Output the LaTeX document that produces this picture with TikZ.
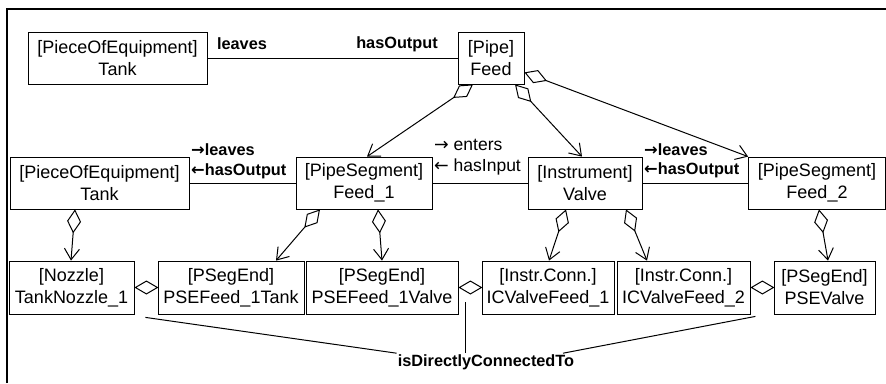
\documentclass[tikz,border=0pt]{standalone}
\usepackage{fontspec}
\setmainfont{Liberation Sans}
\newfontfamily\arrowfont{DejaVu Sans}
\usetikzlibrary{arrows.meta}

\begin{document}
\begin{tikzpicture}[x=1pt,y=-1pt,
    cls/.style={draw,line width=0.8pt,align=center,inner sep=0pt,
      minimum height=52pt,font=\fontsize{18}{22}\selectfont},
    rel/.style={inner sep=1pt,font=\fontsize{16.3}{20}\selectfont\bfseries},
    rtxt/.style={inner sep=1pt,font=\fontsize{17.5}{20}\selectfont},
    assoc/.style={line width=1pt},
    part/.style={line width=1pt,
      {Diamond[open,length=24pt,width=14pt]}-{Straight Barb[length=11pt,width=15pt]}},
    joint/.style={line width=1pt,{Diamond[open,length=24pt,width=14pt]}-}]
  \useasboundingbox (0,0) rectangle (886,383);
  \draw[line width=2pt] (7,383) -- (7,9) -- (886,9);

  \node[cls,minimum width=179pt] (tankA) at (117.5,58) {[PieceOfEquipment]\\Tank};
  \node[cls,minimum width=66pt] (pipe) at (491,58) {[Pipe]\\Feed};
  \node[cls,minimum width=179pt] (tankB) at (99.5,183) {[PieceOfEquipment]\\Tank};
  \node[cls,minimum width=136pt] (feedA) at (364,183) {[PipeSegment]\\Feed\_1};
  \node[cls,minimum width=114pt] (valve) at (585,183) {[Instrument]\\Valve};
  \node[cls,minimum width=137pt] (feedB) at (817,183) {[PipeSegment]\\Feed\_2};
  \node[cls,minimum width=125pt,minimum height=53pt] (nozzle) at (71.5,287.5) {[Nozzle]\\TankNozzle\_1};
  \node[cls,minimum width=146pt,minimum height=53pt] (pseTank) at (231,287.5) {[PSegEnd]\\PSEFeed\_1Tank};
  \node[cls,minimum width=152pt,minimum height=53pt] (pseValve) at (382,287.5) {[PSegEnd]\\PSEFeed\_1Valve};
  \node[cls,minimum width=132pt,minimum height=53pt] (icA) at (548,287.5) {[Instr.Conn.]\\ICValveFeed\_1};
  \node[cls,minimum width=133pt,minimum height=53pt] (icB) at (683.5,287.5) {[Instr.Conn.]\\ICValveFeed\_2};
  \node[cls,minimum width=101pt,minimum height=53pt] (psev) at (824.5,287.5) {[PSegEnd]\\PSEValve};

  \draw[assoc] (tankA) -- (pipe);
  \node[rel] (lvA) at (242,44) {leaves};
  \node[rel] (hoA) at (397,44) {hasOutput};

  \draw[assoc] (tankB) -- (feedA);
  \node[rel,anchor=west] (lvB) at (190,150) {{\arrowfont →}leaves};
  \node[rel,anchor=west] (hoB) at (190,171) {{\arrowfont ←}hasOutput};
  \draw[assoc] (feedA) -- (valve);
  \node[rtxt,anchor=west] (en) at (433,145) {{\arrowfont →} enters};
  \node[rtxt,anchor=west] (hi) at (433,167) {{\arrowfont ←} hasInput};
  \draw[assoc] (valve) -- (feedB);
  \node[rel,anchor=west] (lvC) at (643,150) {{\arrowfont →}leaves};
  \node[rel,anchor=west] (hoC) at (643,170) {{\arrowfont ←}hasOutput};

  \draw[part] ([xshift=-18pt]pipe.south) -- ([xshift=3pt]feedA.north);
  \draw[part] ([xshift=24pt]pipe.south) -- ([xshift=-3pt]valve.north);
  \draw[part] ([yshift=12pt]pipe.south east) -- (feedB.north west);
  \draw[part] ([xshift=-24.5pt]tankB.south) -- ([xshift=-0.5pt]nozzle.north);
  \draw[part] ([xshift=-44pt]feedA.south) -- ([xshift=45pt]pseTank.north);
  \draw[part] ([xshift=14pt]feedA.south) -- (pseValve.north);
  \draw[part] ([xshift=-19pt]valve.south) -- ([xshift=1pt]icA.north);
  \draw[part] ([xshift=41pt]valve.south) -- ([xshift=-36.5pt]icB.north);
  \draw[part] ([xshift=2pt]feedB.south) -- ([xshift=3.5pt]psev.north);

  \draw[joint] (nozzle.east) -- (pseTank.west);
  \draw[joint] (pseValve.east) -- (icA.west);
  \draw[joint] (icB.east) -- (psev.west);

  \node[rel] (dc) at (486,362) {isDirectlyConnectedTo};
  \coordinate (jA) at ([xshift=11pt,yshift=-3pt]nozzle.south east);
  \coordinate (jB) at ([xshift=7pt,yshift=12pt]pseValve.south east);
  \coordinate (jC) at ([xshift=5pt,yshift=-2pt]icB.south east);
  \draw[assoc] (jA) -- (dc.north west);
  \draw[assoc] (jB) -- (jB |- dc.north);
  \draw[assoc] (jC) -- ([xshift=77pt]dc.north);
\end{tikzpicture}
\end{document}
